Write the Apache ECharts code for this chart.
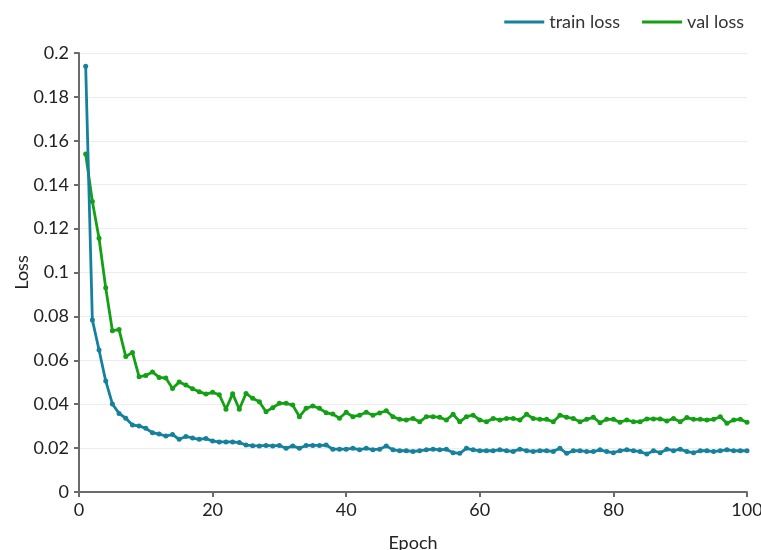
<!DOCTYPE html>
<html>
<head>
<meta charset="utf-8">
<script src="https://cdn.jsdelivr.net/npm/echarts@6/dist/echarts.min.js"></script>
<style>
html, body { margin: 0; padding: 0; background: #fff; }
#chart { width: 761px; height: 550px; }
</style>
</head>
<body>
<div id="chart"></div>
<script>
const epochs = Array.from({ length: 100 }, (_, i) => i + 1);

const trainLoss = [
    0.194, 0.0784, 0.0647, 0.0506, 0.0401, 0.0358, 0.0336, 0.0305, 0.0301, 0.029,
    0.027, 0.0264, 0.0255, 0.0262, 0.024, 0.0253, 0.0246, 0.024, 0.0244, 0.0232,
    0.0228, 0.0228, 0.0228, 0.0225, 0.0214, 0.0211, 0.021, 0.0212, 0.021, 0.0212,
    0.0199, 0.021, 0.0199, 0.0212, 0.0212, 0.0212, 0.0214, 0.0195, 0.0195, 0.0195,
    0.0199, 0.0193, 0.0199, 0.0193, 0.0195, 0.021, 0.0192, 0.0188, 0.0188, 0.0185,
    0.0188, 0.0192, 0.0195, 0.0192, 0.0195, 0.0179, 0.0176, 0.0199, 0.0192, 0.0188,
    0.0188, 0.0188, 0.0192, 0.0188, 0.0185, 0.0195, 0.0188, 0.0185, 0.0188, 0.0188,
    0.0185, 0.0199, 0.0176, 0.0188, 0.0188, 0.0184, 0.0184, 0.0192, 0.0184, 0.0179,
    0.0188, 0.0192, 0.0188, 0.0184, 0.0173, 0.0188, 0.0179, 0.0195, 0.0188, 0.0195,
    0.0184, 0.0179, 0.0188, 0.0188, 0.0184, 0.0188, 0.0192, 0.0188, 0.0188, 0.0188
];

const valLoss = [
    0.154, 0.1323, 0.1156, 0.093, 0.0735, 0.074, 0.0617, 0.0636, 0.0525, 0.0531,
    0.0547, 0.0522, 0.0519, 0.0472, 0.0501, 0.0487, 0.047, 0.0457, 0.0446, 0.0454,
    0.0443, 0.0377, 0.0448, 0.0377, 0.0449, 0.0427, 0.0411, 0.0366, 0.0384, 0.0404,
    0.0404, 0.0396, 0.0343, 0.0381, 0.0392, 0.0381, 0.0361, 0.0355, 0.0336, 0.0363,
    0.0343, 0.035, 0.0363, 0.035, 0.036, 0.037, 0.0343, 0.0331, 0.0328, 0.0335,
    0.032, 0.0343, 0.0343, 0.034, 0.0328, 0.0354, 0.032, 0.0343, 0.035, 0.0328,
    0.032, 0.0335, 0.0328, 0.0335, 0.0335, 0.0328, 0.0354, 0.0335, 0.0331, 0.0331,
    0.032, 0.035, 0.034, 0.0335, 0.032, 0.0331, 0.034, 0.0316, 0.0331, 0.0331,
    0.0318, 0.0328, 0.032, 0.032, 0.0333, 0.0333, 0.0333, 0.0324, 0.0335, 0.032,
    0.0339, 0.0331, 0.0331, 0.0328, 0.0331, 0.0343, 0.0313, 0.0328, 0.0331, 0.0318
];

const seriesNames = ['train loss', 'val loss'];
const seriesColors = ['#16819c', '#14a014'];

const font = 'Lato, "Open Sans", sans-serif';
const chart = echarts.init(document.getElementById('chart'), null, { renderer: 'canvas' });

const axisCommon = {
    axisLine: { show: true, lineStyle: { color: '#6b6b6b', width: 2 } },
    axisTick: { show: true, length: 5, lineStyle: { color: '#6b6b6b', width: 2 } },
    axisLabel: { color: '#222', fontSize: 18, fontFamily: font },
    nameTextStyle: { color: '#222', fontSize: 18, fontFamily: font },
    nameMoveOverlap: false,
};

chart.setOption({
    animation: false,
    backgroundColor: '#fff',
    grid: { left: 79, right: 14, top: 53, bottom: 58, containLabel: false, outerBoundsMode: 'none' },
    legend: {
        top: 8,
        right: 12,
        itemWidth: 40,
        itemHeight: 3,
        itemGap: 22,
        icon: 'rect',
        textStyle: { color: '#333', fontSize: 18, fontFamily: font },
        data: seriesNames,
    },
    xAxis: {
        ...axisCommon,
        type: 'value',
        min: 0,
        max: 100,
        interval: 20,
        name: 'Epoch',
        nameLocation: 'middle',
        nameGap: 42,
        splitLine: { show: false },
        axisLabel: { ...axisCommon.axisLabel, margin: 9 },
    },
    yAxis: {
        ...axisCommon,
        type: 'value',
        min: 0,
        max: 0.2,
        interval: 0.02,
        name: 'Loss',
        nameLocation: 'middle',
        nameGap: 48,
        splitLine: { show: true, lineStyle: { color: '#ececec', width: 1 } },
        axisLabel: { ...axisCommon.axisLabel, margin: 10 },
    },
    series: seriesNames.map((name, i) => ({
        name,
        type: 'line',
        data: epochs.map((e, j) => [e, (i === 0 ? trainLoss : valLoss)[j]]),
        color: seriesColors[i],
        symbol: 'circle',
        symbolSize: 5,
        showSymbol: true,
        lineStyle: { width: 2.8 },
        z: i === 0 ? 3 : 2,
    })),
});
</script>
</body>
</html>
